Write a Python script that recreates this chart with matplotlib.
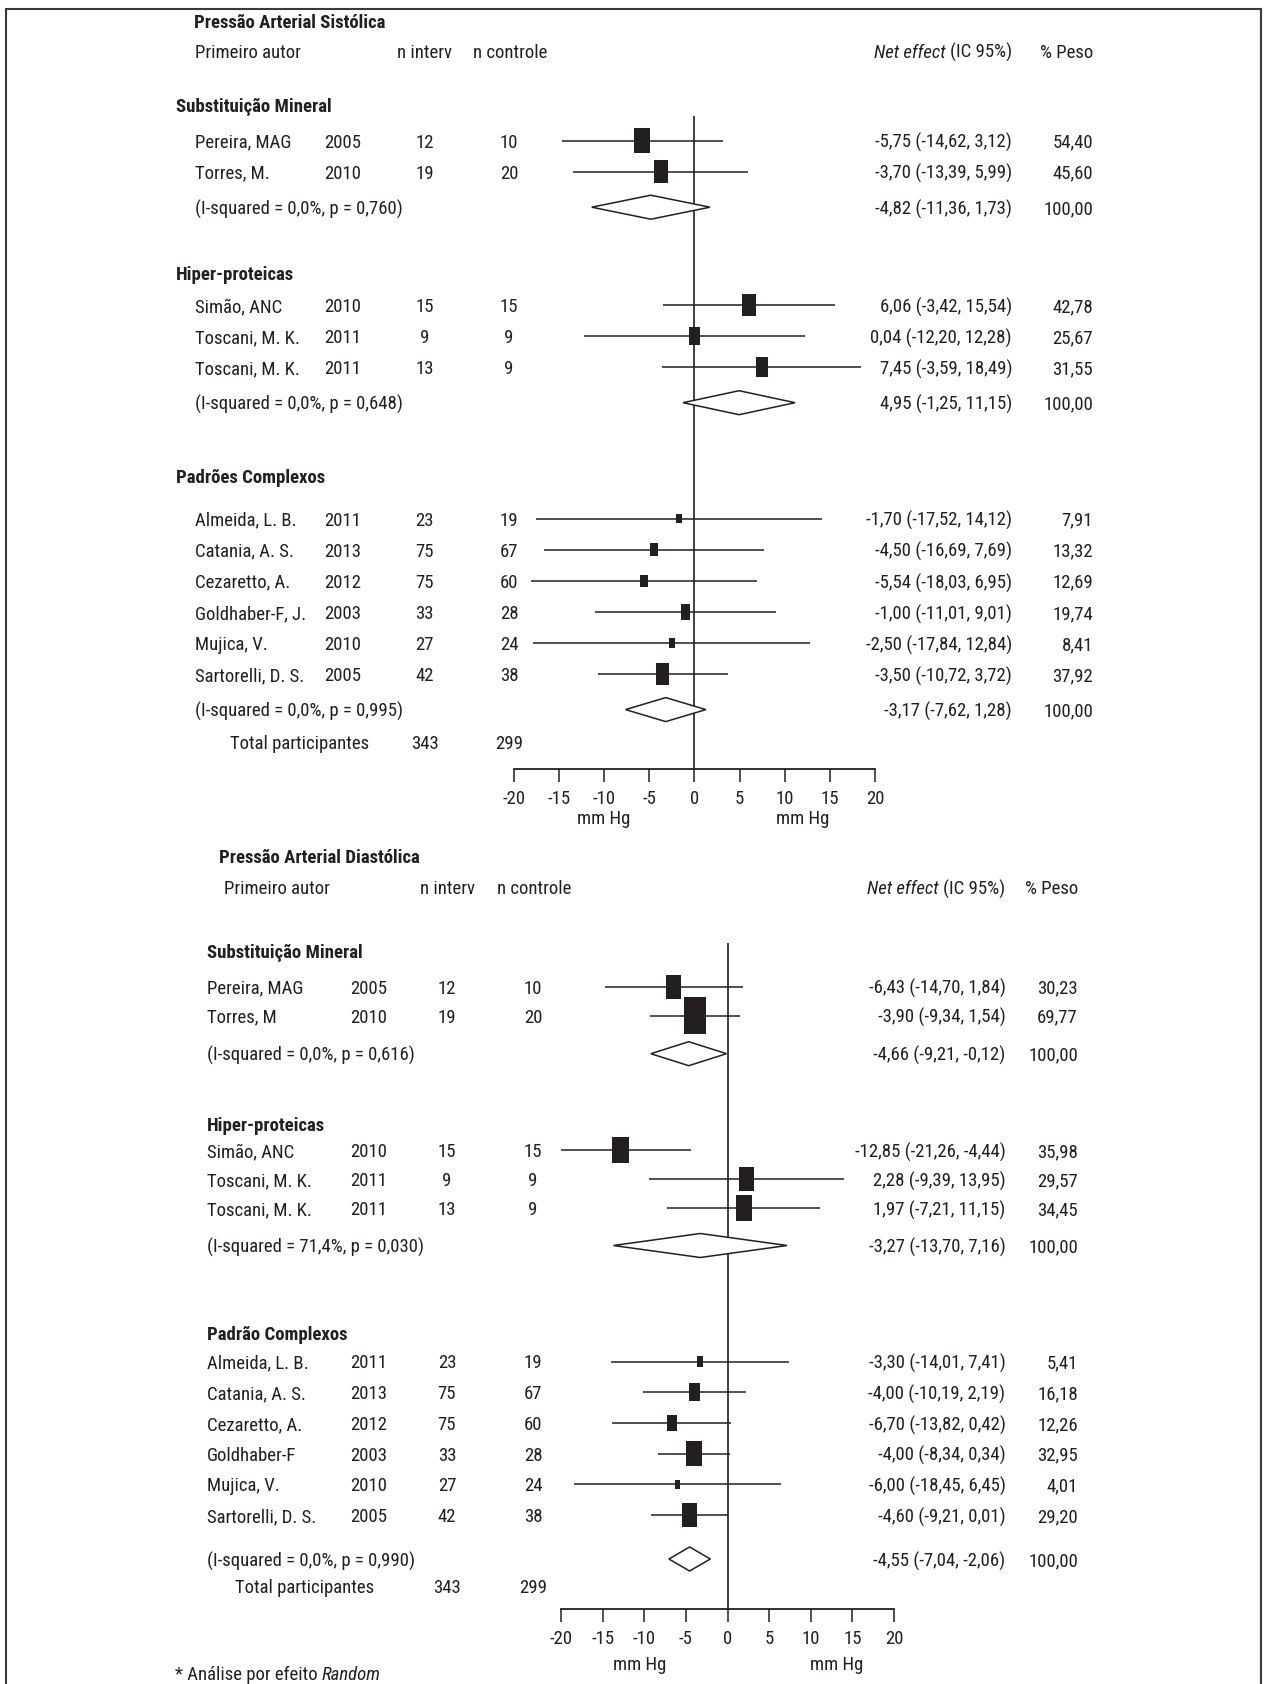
import numpy as np
import matplotlib.pyplot as plt
from matplotlib.patches import Polygon, Rectangle
from matplotlib.transforms import blended_transform_factory

plt.rcParams['font.family'] = ['Roboto Condensed', 'Liberation Sans', 'DejaVu Sans']
plt.rcParams['axes.unicode_minus'] = False

INK = '#231f20'
FS = 13.5
W, H = 1267, 1684

# ---------------- Pressão Arterial Sistólica ----------------
sys_group_names = ["Substituição Mineral", "Hiper-proteicas", "Padrões Complexos"]
sys_group = [0, 0, 1, 1, 1, 2, 2, 2, 2, 2, 2]
sys_author = ["Pereira, MAG", "Torres, M.", "Simão, ANC", "Toscani, M. K.", "Toscani, M. K.",
              "Almeida, L. B.", "Catania, A. S.", "Cezaretto, A.", "Goldhaber-F, J.",
              "Mujica, V.", "Sartorelli, D. S."]
sys_year = [2005, 2010, 2010, 2011, 2011, 2011, 2013, 2012, 2003, 2010, 2005]
sys_n_int = [12, 19, 15, 9, 13, 23, 75, 75, 33, 27, 42]
sys_n_ctl = [10, 20, 15, 9, 9, 19, 67, 60, 28, 24, 38]
sys_effect = [-5.75, -3.70, 6.06, 0.04, 7.45, -1.70, -4.50, -5.54, -1.00, -2.50, -3.50]
sys_lo = [-14.62, -13.39, -3.42, -12.20, -3.59, -17.52, -16.69, -18.03, -11.01, -17.84, -10.72]
sys_hi = [3.12, 5.99, 15.54, 12.28, 18.49, 14.12, 7.69, 6.95, 9.01, 12.84, 3.72]
sys_weight = [54.40, 45.60, 42.78, 25.67, 31.55, 7.91, 13.32, 12.69, 19.74, 8.41, 37.92]
sys_pool_effect = [-4.82, 4.95, -3.17]
sys_pool_lo = [-11.36, -1.25, -7.62]
sys_pool_hi = [1.73, 11.15, 1.28]
sys_i2 = [0.0, 0.0, 0.0]
sys_p = [0.760, 0.648, 0.995]
sys_total = [343, 299]

# ---------------- Pressão Arterial Diastólica ----------------
dia_group_names = ["Substituição Mineral", "Hiper-proteicas", "Padrão Complexos"]
dia_group = [0, 0, 1, 1, 1, 2, 2, 2, 2, 2, 2]
dia_author = ["Pereira, MAG", "Torres, M", "Simão, ANC", "Toscani, M. K.", "Toscani, M. K.",
              "Almeida, L. B.", "Catania, A. S.", "Cezaretto, A.", "Goldhaber-F",
              "Mujica, V.", "Sartorelli, D. S."]
dia_year = [2005, 2010, 2010, 2011, 2011, 2011, 2013, 2012, 2003, 2010, 2005]
dia_n_int = [12, 19, 15, 9, 13, 23, 75, 75, 33, 27, 42]
dia_n_ctl = [10, 20, 15, 9, 9, 19, 67, 60, 28, 24, 38]
dia_effect = [-6.43, -3.90, -12.85, 2.28, 1.97, -3.30, -4.00, -6.70, -4.00, -6.00, -4.60]
dia_lo = [-14.70, -9.34, -21.26, -9.39, -7.21, -14.01, -10.19, -13.82, -8.34, -18.45, -9.21]
dia_hi = [1.84, 1.54, -4.44, 13.95, 11.15, 7.41, 2.19, 0.42, 0.34, 6.45, 0.01]
dia_weight = [30.23, 69.77, 35.98, 29.57, 34.45, 5.41, 16.18, 12.26, 32.95, 4.01, 29.20]
dia_pool_effect = [-4.66, -3.27, -4.55]
dia_pool_lo = [-9.21, -13.70, -7.04]
dia_pool_hi = [-0.12, 7.16, -2.06]
dia_i2 = [0.0, 71.4, 0.0]
dia_p = [0.616, 0.030, 0.990]
dia_total = [343, 299]

x_ticks = [-20, -15, -10, -5, 0, 5, 10, 15, 20]

# layout, in reference pixels (y measured from the top of the figure)
top_layout = dict(title="Pressão Arterial Sistólica", left=513.7, right=875, line_top=116, axis_y=769,
                  title_x=194, title_y=21.5, header_y=50.5, hdr_author_x=195, hdr_nint_x=397,
                  hdr_nctl_x=473, eff_x=1012, wt_x=1093, group_x=176, name_x=195, year_x=343,
                  nint_x=424.5, nctl_x=509, total_x=230,
                  heads=[105, 272.7, 475.6], head_gap=[35.6, 32.3, 43], step=[31.1, 31.1, 31.1],
                  pool_gap=[35.5, 35.5, 35.5], total_gap=32.3, box_k=6.2,
                  mmhg_x=[-10, 12], mmhg_y=817)
bot_layout = dict(title="Pressão Arterial Diastólica", left=561, right=894, line_top=943, axis_y=1609,
                  title_x=219, title_y=855.7, header_y=887, hdr_author_x=224, hdr_nint_x=420,
                  hdr_nctl_x=497, eff_x=1005.5, wt_x=1078, group_x=207, name_x=207, year_x=369,
                  nint_x=447, nctl_x=533, total_x=235,
                  heads=[951, 1124, 1333.5], head_gap=[35.7, 26, 28], step=[29, 29, 30.7],
                  pool_gap=[38, 37.5, 44], total_gap=27, box_k=9.95,
                  mmhg_x=[-10.5, 13.1], mmhg_y=1663)


def fmt(v):
    return f"{v:.2f}".replace('.', ',')


def draw_panel(fig, lay, names, group, author, year, n_int, n_ctl, eff, lo, hi, wt,
               p_eff, p_lo, p_hi, i2, pval, total):
    ax = fig.add_axes([lay['left'] / W, 1 - lay['axis_y'] / H,
                       (lay['right'] - lay['left']) / W, (lay['axis_y'] - lay['line_top']) / H])
    ax.set_xlim(-20, 20)
    ax.set_ylim(lay['axis_y'], lay['line_top'])
    for s in ['top', 'left', 'right']:
        ax.spines[s].set_visible(False)
    ax.spines['bottom'].set_linewidth(1.3)
    ax.spines['bottom'].set_color(INK)
    ax.set_yticks([])
    ax.set_xticks(x_ticks)
    ax.tick_params(axis='x', direction='out', length=9.5, width=1.1, pad=5.5,
                   labelsize=FS, colors=INK)
    ax.patch.set_alpha(0)
    ax.axvline(0, color=INK, lw=1.2)

    tr = blended_transform_factory(fig.transFigure, ax.transData)
    kw = dict(transform=tr, fontsize=FS, color=INK, va='center_baseline', clip_on=False)

    ax.text(lay['title_x'] / W, lay['title_y'], lay['title'], fontweight='bold', **kw)
    ax.text(lay['hdr_author_x'] / W, lay['header_y'], "Primeiro autor", **kw)
    ax.text(lay['hdr_nint_x'] / W, lay['header_y'], "n interv", **kw)
    ax.text(lay['hdr_nctl_x'] / W, lay['header_y'], "n controle", **kw)
    t = ax.text(lay['eff_x'] / W, lay['header_y'], "(IC 95%)", ha='right', **kw)
    ax.annotate("Net effect ", xy=(0, 0.5), xycoords=t, ha='right', va='center',
                fontsize=FS, color=INK, style='italic')
    ax.text(lay['wt_x'] / W, lay['header_y'], "% Peso", ha='right', **kw)

    group = np.array(group)
    y = 0
    for g, gname in enumerate(names):
        ax.text(lay['group_x'] / W, lay['heads'][g], gname, fontweight='bold', **kw)
        idx = np.where(group == g)[0]
        y = lay['heads'][g] + lay['head_gap'][g]
        ys = []
        for i in idx:
            ys.append(y)
            ax.text(lay['name_x'] / W, y, author[i], **kw)
            ax.text(lay['year_x'] / W, y, str(year[i]), ha='center', **kw)
            ax.text(lay['nint_x'] / W, y, str(n_int[i]), ha='center', **kw)
            ax.text(lay['nctl_x'] / W, y, str(n_ctl[i]), ha='center', **kw)
            ax.text(lay['eff_x'] / W, y, f"{fmt(eff[i])} ({fmt(lo[i])}, {fmt(hi[i])})", ha='right', **kw)
            ax.text(lay['wt_x'] / W, y, fmt(wt[i]), ha='right', **kw)
            y += lay['step'][g]
        ys = np.array(ys)
        ax.hlines(ys, np.array(lo)[idx], np.array(hi)[idx], color=INK, lw=1.1)
        ax.scatter(np.array(eff)[idx], ys, s=lay['box_k'] * np.array(wt)[idx],
                   marker=[(-0.3125, -0.5), (0.3125, -0.5), (0.3125, 0.5), (-0.3125, 0.5), (-0.3125, -0.5)],
                   color=INK, linewidths=0, zorder=3)
        yp = ys[-1] + lay['pool_gap'][g]
        hh = 12
        ax.add_patch(Polygon([(p_lo[g], yp), (p_eff[g], yp - hh), (p_hi[g], yp), (p_eff[g], yp + hh)],
                             closed=True, facecolor='white', edgecolor=INK, lw=1.1, zorder=4))
        i2txt = f"(I-squared = {i2[g]:.1f}%, p = {pval[g]:.3f})".replace('.', ',')
        ax.text(lay['name_x'] / W, yp, i2txt, **kw)
        ax.text(lay['eff_x'] / W, yp, f"{fmt(p_eff[g])} ({fmt(p_lo[g])}, {fmt(p_hi[g])})", ha='right', **kw)
        ax.text(lay['wt_x'] / W, yp, fmt(100.0), ha='right', **kw)
        y = yp

    yt = y + lay['total_gap']
    ax.text(lay['total_x'] / W, yt, "Total participantes", **kw)
    ax.text(lay['nint_x'] / W, yt, str(total[0]), ha='center', **kw)
    ax.text(lay['nctl_x'] / W, yt, str(total[1]), ha='center', **kw)

    for xm in lay['mmhg_x']:
        ax.text(xm, lay['mmhg_y'], "mm Hg", ha='center', va='center_baseline',
                fontsize=FS, color=INK, clip_on=False)
    return ax


fig = plt.figure(figsize=(W / 100, H / 100), dpi=100)
fig.patch.set_facecolor('white')

draw_panel(fig, top_layout, sys_group_names, sys_group, sys_author, sys_year, sys_n_int, sys_n_ctl,
           sys_effect, sys_lo, sys_hi, sys_weight, sys_pool_effect, sys_pool_lo, sys_pool_hi,
           sys_i2, sys_p, sys_total)
draw_panel(fig, bot_layout, dia_group_names, dia_group, dia_author, dia_year, dia_n_int, dia_n_ctl,
           dia_effect, dia_lo, dia_hi, dia_weight, dia_pool_effect, dia_pool_lo, dia_pool_hi,
           dia_i2, dia_p, dia_total)

# footnote
foot = fig.text(175 / W, 1 - 1673 / H, "* Análise por efeito ", fontsize=FS, color=INK, va='center_baseline')
fig.add_artist(plt.Annotation("Random", xy=(1, 0.5), xycoords=foot, ha='left', va='center',
                              fontsize=FS, color=INK, style='italic'))

# frame around the figure
fig.add_artist(Rectangle((6 / W, -0.05), (1261 - 6) / W, 1.05 - 9 / H, transform=fig.transFigure,
                         fill=False, edgecolor='#3a3a3a', lw=1.5, clip_on=False))

fig.savefig('out.png', dpi=100, facecolor='white')
